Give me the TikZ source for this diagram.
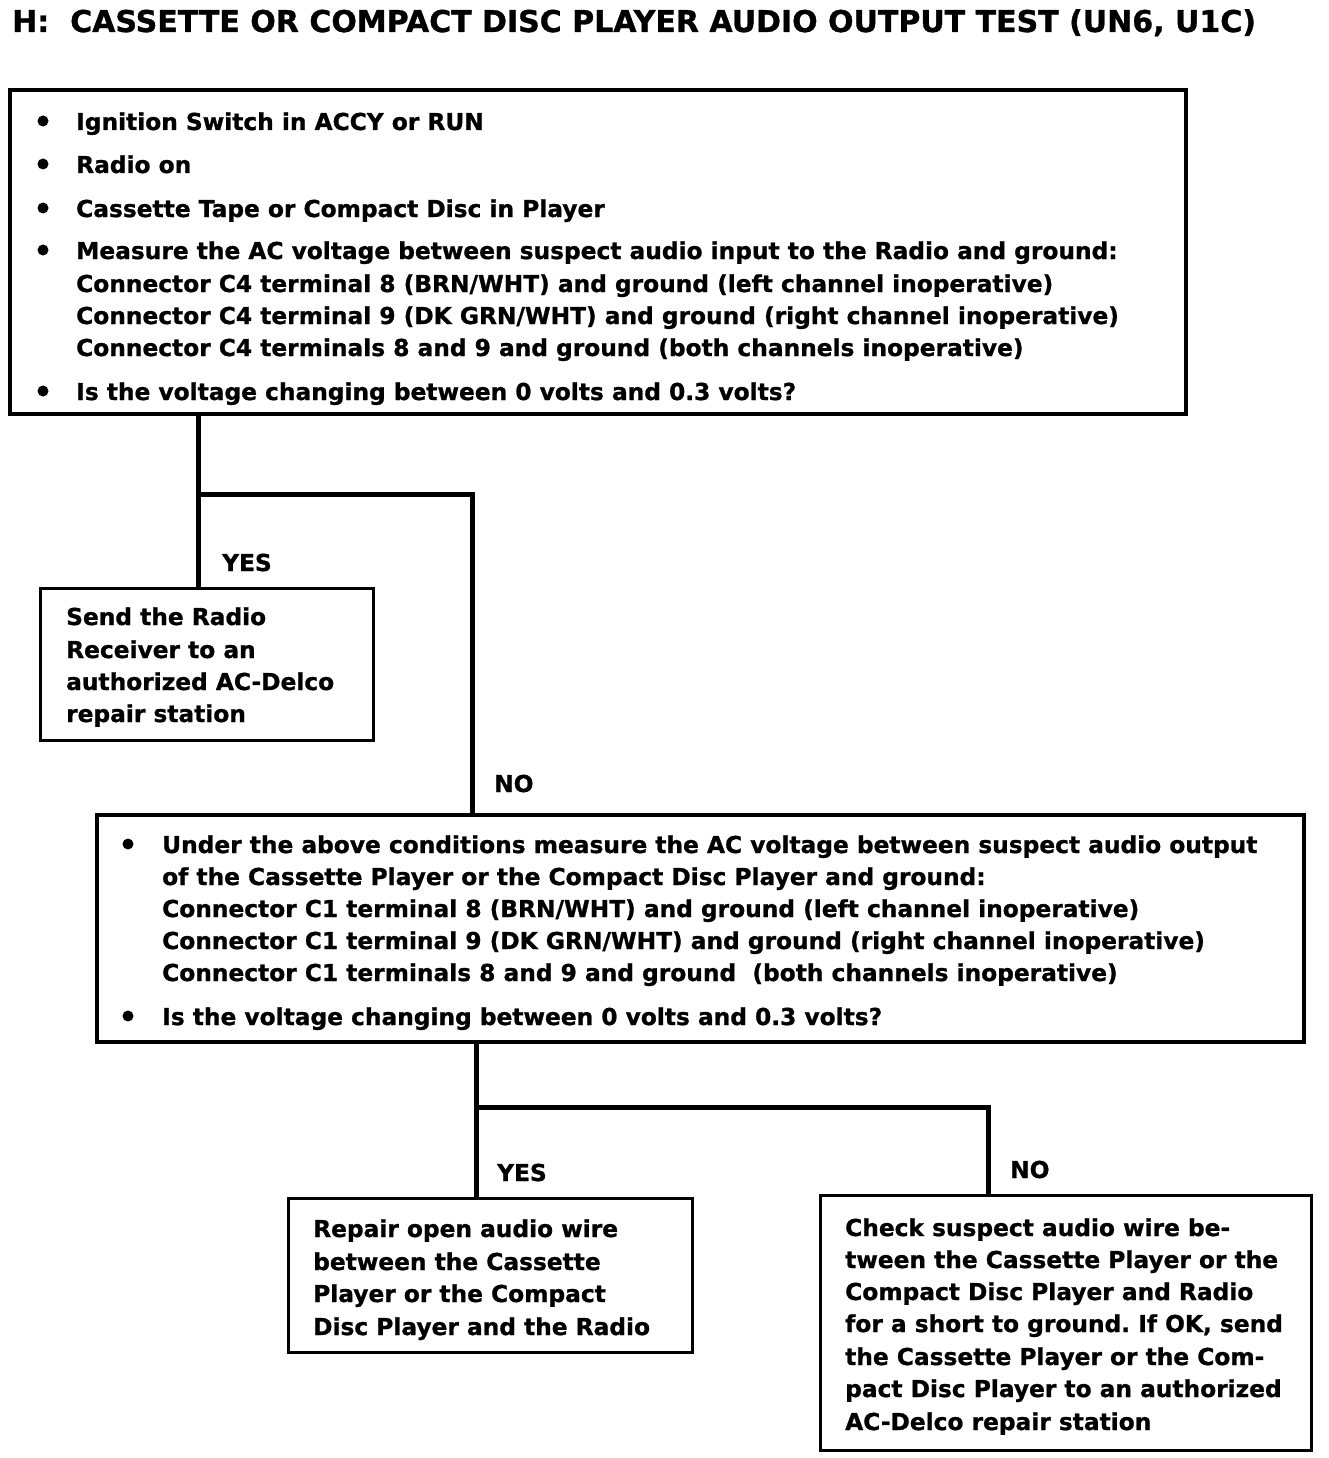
\documentclass[tikz,border=0pt]{standalone}
\usepackage{fontspec}
\setmainfont[BoldFeatures={FakeBold=1}]{DejaVu Sans}
\frenchspacing
\begin{document}
\begin{tikzpicture}[x=1pt,y=-1pt,
  txt/.style={anchor=base west,inner sep=0pt,font=\bfseries\fontsize{23.3}{30}\selectfont},
  ttl/.style={anchor=base west,inner sep=0pt,font=\bfseries\fontsize{30}{36}\selectfont},
  lbl/.style={anchor=base west,inner sep=0pt,font=\bfseries\fontsize{23.3}{30}\selectfont},
  boxa/.style={draw,line width=3.5pt},
  boxb/.style={draw,line width=3pt},
  wire/.style={line width=5pt},
  bul/.style={circle,fill,inner sep=0pt,minimum size=11pt}]
\useasboundingbox (0,0) rectangle (1328,1458);
\node[ttl] (title) at (12,32) {H:\ \ CASSETTE OR COMPACT DISC PLAYER AUDIO OUTPUT TEST (UN6, U1C)};
% box 1
\draw[boxa] (10,90) rectangle (1186,414);
\coordinate (b1bot) at (198,414);
\foreach \y in {121,164,208,250,391} \node[bul] at (43,\y) {};
\node[txt] at (76,130) {Ignition Switch in ACCY or RUN};
\node[txt] at (76,173) {Radio on};
\node[txt] at (76,217) {Cassette Tape or Compact Disc in Player};
\node[txt] at (76,259) {Measure the AC voltage between suspect audio input to the Radio and ground:};
\node[txt] at (76,292) {Connector C4 terminal 8 (BRN/WHT) and ground (left channel inoperative)};
\node[txt] at (76,324) {Connector C4 terminal 9 (DK GRN/WHT) and ground (right channel inoperative)};
\node[txt] at (76,356) {Connector C4 terminals 8 and 9 and ground (both channels inoperative)};
\node[txt] at (76,400) {Is the voltage changing between 0 volts and 0.3 volts?};
% box 2
\draw[boxb] (40,588) rectangle (373,740);
\coordinate (b2top) at (198,588);
\node[txt] at (66,625) {Send the Radio};
\node[txt] at (66,658) {Receiver to an};
\node[txt] at (66,690) {authorized AC-Delco};
\node[txt] at (66,722) {repair station};
% connectors 1
\coordinate (j1) at (198,494);
\coordinate (k1) at (472,494);
\draw[wire] (b1bot) -- (b2top);
\draw[wire] (j1) -- (k1) -- (472,815);
\node[lbl] (yes1) at (222,571) {YES};
\node[lbl] (no1) at (494,792) {NO};
% box 3
\draw[boxa] (97,815) rectangle (1304,1042);
\foreach \y in {844,1016} \node[bul] at (128,\y) {};
\node[txt] at (162,853) {Under the above conditions measure the AC voltage between suspect audio output};
\node[txt] at (162,885) {of the Cassette Player or the Compact Disc Player and ground:};
\node[txt] at (162,917) {Connector C1 terminal 8 (BRN/WHT) and ground (left channel inoperative)};
\node[txt] at (162,949) {Connector C1 terminal 9 (DK GRN/WHT) and ground (right channel inoperative)};
\node[txt] at (162,981) {Connector C1 terminals 8 and 9 and ground\ \ (both channels inoperative)};
\node[txt] at (162,1025) {Is the voltage changing between 0 volts and 0.3 volts?};
% connectors 2
\coordinate (b3bot) at (476,1042);
\coordinate (b4top) at (476,1198);
\coordinate (j2) at (476,1107);
\coordinate (k2) at (988,1107);
\coordinate (b5top) at (988,1195);
\draw[wire] (b3bot) -- (b4top);
\draw[wire] (j2) -- (k2) -- (b5top);
\node[lbl] (yes2) at (497,1181) {YES};
\node[lbl] (no2) at (1010,1178) {NO};
% box 4
\draw[boxb] (288,1198) rectangle (692,1352);
\node[txt] at (313,1237) {Repair open audio wire};
\node[txt] at (313,1270) {between the Cassette};
\node[txt] at (313,1302) {Player or the Compact};
\node[txt] at (313,1335) {Disc Player and the Radio};
% box 5
\draw[boxb] (820,1195) rectangle (1311,1450);
\node[txt] at (845,1236) {Check suspect audio wire be-};
\node[txt] at (845,1268) {tween the Cassette Player or the};
\node[txt] at (845,1300) {Compact Disc Player and Radio};
\node[txt] at (845,1332) {for a short to ground. If OK, send};
\node[txt] at (845,1365) {the Cassette Player or the Com-};
\node[txt] at (845,1397) {pact Disc Player to an authorized};
\node[txt] at (845,1430) {AC-Delco repair station};
\end{tikzpicture}
\end{document}
